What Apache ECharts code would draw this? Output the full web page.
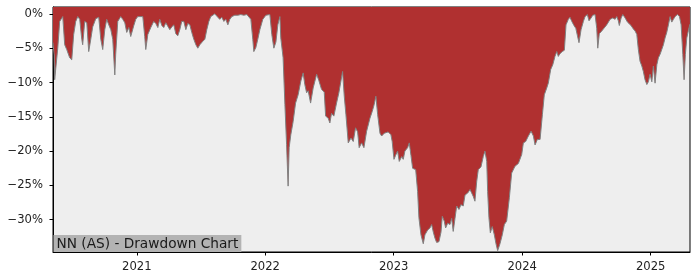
<!DOCTYPE html>
<html>
<head>
<meta charset="utf-8">
<script src="https://cdn.jsdelivr.net/npm/echarts@6/dist/echarts.min.js"></script>
<style>html,body{margin:0;padding:0;background:#fff}#c{width:700px;height:280px}</style>
</head>
<body>
<div id="c"></div>
<script>
// Dates as decimal years
const years = [2020.348,2020.357,2020.361,2020.385,2020.400,2020.424,2020.439,2020.455,2020.478,2020.494,2020.509,2020.525,2020.541,2020.556,2020.572,2020.579,2020.595,2020.611,2020.626,2020.642,2020.657,2020.681,2020.704,2020.720,2020.735,2020.751,2020.766,2020.782,2020.798,2020.813,2020.829,2020.836,2020.852,2020.875,2020.891,2020.907,2020.922,2020.938,2020.953,2020.977,2020.992,2021.008,2021.023,2021.047,2021.062,2021.070,2021.086,2021.109,2021.132,2021.148,2021.164,2021.179,2021.195,2021.210,2021.226,2021.241,2021.257,2021.273,2021.288,2021.304,2021.319,2021.335,2021.350,2021.366,2021.382,2021.397,2021.413,2021.428,2021.444,2021.460,2021.475,2021.491,2021.514,2021.530,2021.545,2021.561,2021.576,2021.607,2021.631,2021.646,2021.662,2021.678,2021.693,2021.709,2021.724,2021.740,2021.763,2021.787,2021.810,2021.833,2021.857,2021.872,2021.888,2021.903,2021.911,2021.927,2021.942,2021.958,2021.981,2022.005,2022.020,2022.036,2022.051,2022.067,2022.083,2022.098,2022.114,2022.121,2022.139,2022.153,2022.166,2022.178,2022.186,2022.199,2022.217,2022.236,2022.256,2022.277,2022.295,2022.308,2022.322,2022.334,2022.353,2022.373,2022.400,2022.417,2022.438,2022.459,2022.470,2022.490,2022.503,2022.516,2022.534,2022.555,2022.573,2022.589,2022.602,2022.615,2022.628,2022.646,2022.667,2022.685,2022.703,2022.719,2022.731,2022.750,2022.768,2022.789,2022.815,2022.833,2022.848,2022.861,2022.875,2022.893,2022.906,2022.926,2022.957,2022.978,2022.988,2023.002,2023.015,2023.030,2023.043,2023.062,2023.074,2023.087,2023.108,2023.121,2023.134,2023.147,2023.171,2023.186,2023.196,2023.212,2023.230,2023.243,2023.264,2023.282,2023.295,2023.308,2023.321,2023.334,2023.352,2023.368,2023.378,2023.393,2023.404,2023.420,2023.438,2023.451,2023.463,2023.477,2023.490,2023.508,2023.523,2023.541,2023.555,2023.576,2023.594,2023.607,2023.619,2023.632,2023.646,2023.658,2023.679,2023.697,2023.710,2023.724,2023.731,2023.741,2023.752,2023.767,2023.783,2023.796,2023.809,2023.827,2023.845,2023.861,2023.879,2023.900,2023.918,2023.944,2023.970,2023.996,2024.009,2024.027,2024.048,2024.069,2024.087,2024.100,2024.118,2024.139,2024.157,2024.172,2024.191,2024.203,2024.222,2024.238,2024.255,2024.269,2024.281,2024.294,2024.312,2024.328,2024.341,2024.359,2024.372,2024.386,2024.403,2024.417,2024.432,2024.442,2024.458,2024.476,2024.489,2024.507,2024.520,2024.536,2024.549,2024.567,2024.580,2024.588,2024.600,2024.619,2024.632,2024.658,2024.684,2024.705,2024.723,2024.736,2024.748,2024.756,2024.770,2024.783,2024.801,2024.819,2024.834,2024.847,2024.865,2024.879,2024.892,2024.904,2024.917,2024.931,2024.943,2024.956,2024.970,2024.982,2024.995,2025.009,2025.021,2025.034,2025.048,2025.060,2025.073,2025.087,2025.099,2025.112,2025.125,2025.138,2025.151,2025.164,2025.177,2025.190,2025.208,2025.224,2025.237,2025.250,2025.260,2025.270,2025.281,2025.294,2025.305];
// Drawdown in percent
const drawdown = [-4.2,-6.0,-9.6,-5.0,-1.1,-0.4,-4.5,-5.2,-6.4,-6.7,-3.0,-1.1,-0.4,-0.8,-3.7,-4.5,-1.1,-1.3,-5.5,-3.7,-1.9,-0.7,-0.5,-3.7,-5.2,-2.3,-0.8,-1.6,-2.3,-3.7,-8.9,-5.9,-1.1,-0.4,-0.8,-1.3,-2.7,-2.0,-3.3,-1.7,-0.8,-0.4,-0.2,-0.4,-3.3,-5.2,-3.0,-2.0,-1.1,-1.4,-2.0,-0.8,-1.7,-2.0,-1.3,-1.4,-2.3,-1.9,-1.6,-2.9,-3.2,-2.3,-1.1,-1.1,-2.3,-1.4,-1.6,-2.7,-3.7,-4.5,-5.0,-4.5,-4.0,-3.7,-2.3,-1.1,-0.4,0,-0.5,-0.8,-0.5,-1.1,-0.8,-1.6,-0.8,-0.4,-0.2,-0.2,-0.1,-0.2,-0.1,-0.2,-0.8,-3.7,-5.5,-4.9,-3.7,-2.3,-0.8,-0.2,-0.1,-0.1,-3.0,-5.0,-4.1,-1.6,-0.4,-3.5,-6.4,-13.2,-19.0,-25.1,-19.5,-17.6,-15.7,-13.0,-11.8,-9.8,-8.6,-10.3,-11.5,-11.2,-13.0,-10.8,-8.8,-9.7,-11.0,-11.4,-14.9,-15.2,-15.9,-14.5,-14.9,-13.0,-11.5,-9.8,-8.4,-12.0,-14.7,-18.8,-18.1,-18.6,-16.6,-17.2,-19.5,-18.8,-19.5,-17.1,-15.2,-14.2,-13.2,-12.0,-14.7,-17.4,-17.8,-17.4,-17.2,-17.6,-18.6,-21.2,-20.6,-20.0,-21.5,-20.8,-21.2,-20.0,-19.5,-18.8,-20.6,-22.5,-22.7,-25.9,-29.7,-32.2,-33.5,-32.2,-31.5,-31.2,-30.7,-31.8,-32.7,-33.3,-33.2,-31.8,-29.5,-30.2,-31.2,-30.5,-30.7,-29.8,-31.7,-29.8,-28.0,-28.5,-27.8,-28.0,-26.4,-26.1,-25.6,-25.4,-26.6,-27.3,-24.4,-22.7,-22.3,-20.8,-20.0,-21.5,-25.9,-29.7,-31.9,-31.0,-32.2,-33.5,-34.5,-33.5,-32.2,-30.7,-30.2,-26.8,-23.2,-22.2,-21.8,-20.5,-18.8,-18.6,-17.8,-17.1,-17.8,-19.1,-18.3,-18.3,-14.7,-11.8,-10.8,-10.1,-8.1,-7.4,-6.2,-5.5,-6.2,-5.8,-5.5,-5.3,-1.6,-0.8,-0.5,-1.1,-1.7,-2.1,-2.3,-4.2,-2.3,-1.1,-0.4,-0.1,-1.0,-0.6,-0.2,-0.1,-2.1,-5.0,-2.9,-2.5,-2.5,-1.6,-0.8,-0.6,-0.8,-0.4,-1.0,-1.7,-0.6,-0.1,-0.6,-1.2,-1.4,-1.7,-2.2,-2.5,-3.0,-5.2,-6.9,-7.6,-8.4,-9.6,-10.3,-9.9,-8.8,-9.9,-7.6,-10.1,-7.4,-6.4,-5.9,-5.7,-4.5,-3.5,-2.7,-1.6,-0.4,-1.2,-0.8,-0.4,-0.1,-0.4,-1.6,-5.9,-9.6,-5.9,-3.5,-2.4,-1.5];
const xTicks = [2021, 2022, 2023, 2024, 2025];
const yTicks = [0, -5, -10, -15, -20, -25, -30];
const titleText = 'NN (AS) - Drawdown Chart';

const chart = echarts.init(document.getElementById('c'), null, {renderer: 'canvas'});
const seriesData = years.map((y, i) => [y, drawdown[i]]);
const font = 'DejaVu Sans';
chart.setOption({
  animation: false,
  backgroundColor: '#ffffff',
  title: {
    text: titleText,
    left: 53.5,
    bottom: 28,
    padding: [2, 3, 1, 3],
    backgroundColor: '#b3b3b3',
    textStyle: {fontFamily: font, fontSize: 13.7, fontWeight: 'normal', color: '#1a1a1a'}
  },
  grid: {
    left: 53, top: 7, width: 637, height: 245,
    show: true, backgroundColor: '#eeeeee', borderColor: '#000', borderWidth: 1
  },
  xAxis: {
    type: 'value',
    min: 2020.348, max: 2025.306,
    splitLine: {show: false},
    axisLine: {show: true, onZero: false, lineStyle: {color: '#000', width: 1}},
    axisTick: {show: true, customValues: xTicks, length: 3.5, lineStyle: {color: '#000'}},
    axisLabel: {customValues: xTicks, fontFamily: font, fontSize: 11.6, color: '#222', margin: 9,
      formatter: v => String(Math.round(v))}
  },
  yAxis: {
    type: 'value',
    min: -34.7, max: 1.0,
    splitLine: {show: false},
    axisLine: {show: true, onZero: false, lineStyle: {color: '#000', width: 1}},
    axisTick: {show: true, customValues: yTicks, length: 3.5, lineStyle: {color: '#000'}},
    axisLabel: {customValues: yTicks, fontFamily: font, fontSize: 11.6, color: '#222', margin: 10,
      formatter: v => (v < 0 ? '\u2212' : '') + Math.abs(Math.round(v)) + '%'}
  },
  series: [{
    type: 'line',
    data: seriesData,
    showSymbol: false,
    symbol: 'none',
    lineStyle: {color: '#808080', width: 1},
    areaStyle: {origin: 'end', color: '#b03030', opacity: 1}
  }]
});
</script>
</body>
</html>
